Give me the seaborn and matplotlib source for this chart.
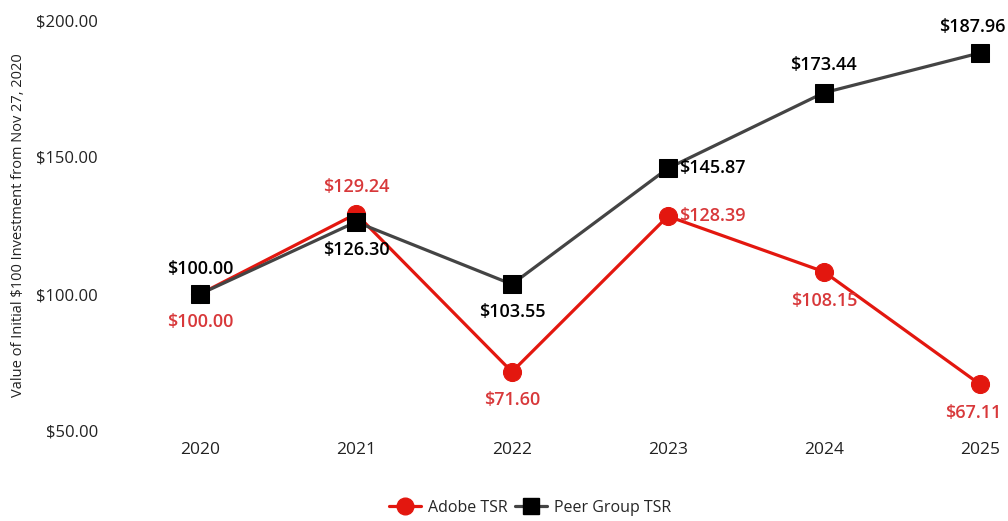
import matplotlib
matplotlib.use("Agg")
import matplotlib.pyplot as plt
import seaborn as sns
import pandas as pd
from matplotlib.lines import Line2D

years = [2020, 2021, 2022, 2023, 2024, 2025]
adobe_tsr = [100.00, 129.24, 71.60, 128.39, 108.15, 67.11]
peer_tsr = [100.00, 126.30, 103.55, 145.87, 173.44, 187.96]
series_names = ["Adobe TSR", "Peer Group TSR"]
y_ticks = [50, 100, 150, 200]

sns.set_theme(style="white")
plt.rcParams['font.family'] = ['Open Sans', 'DejaVu Sans']

df = pd.DataFrame({
    "Year": years * 2,
    "Value": adobe_tsr + peer_tsr,
    "Series": [series_names[0]] * len(years) + [series_names[1]] * len(years),
})

fig = plt.figure(figsize=(10.08, 5.21), dpi=100)
ax = fig.add_axes([105 / 1008, 1 - 431 / 521, (1000 - 105) / 1008, (431 - 20) / 521])

red = "#e3170f"
red_text = "#d8383a"
dark = "#444444"

sns.lineplot(data=df, x="Year", y="Value", hue="Series", style="Series",
             palette={series_names[0]: red, series_names[1]: dark},
             markers={series_names[0]: "o", series_names[1]: "s"},
             dashes=False, linewidth=2.3, markersize=13, ax=ax, legend=False,
             zorder=3)
for line, mc in zip(ax.get_lines(), [red, "black"]):
    line.set_markerfacecolor(mc)
    line.set_markeredgecolor(mc)

ax.set_xlim(2019.39, 2025.13)
ax.set_ylim(50, 200)
ax.set_yticks(y_ticks)
ax.set_yticklabels([f"${v:.2f}" for v in y_ticks])
ax.set_xticks(years)
ax.set_xticklabels([str(y) for y in years])
ax.tick_params(axis="x", pad=8, labelsize=12.5, colors="#222222", length=0)
ax.tick_params(axis="y", pad=5, labelsize=12, colors="#222222", length=0)
for s in ax.spines.values():
    s.set_visible(False)
ax.grid(False)
ax.set_xlabel("")
ax.set_ylabel("Value of Initial $100 Investment from Nov 27, 2020", fontsize=10.5, color="#222222")
ax.yaxis.set_label_coords((26 - 105) / 895, (431 - 225) / 411)

adobe_off = [(0, -20), (0, 19), (0, -20), (32, 0), (0, -21), (-5, -21)]
peer_off = [(0, 18), (0, -20), (0, -20), (32, 0), (0, 20), (-5, 19)]
for i, y in enumerate(years):
    ax.annotate(f"${adobe_tsr[i]:.2f}", (y, adobe_tsr[i]), xytext=adobe_off[i],
                textcoords="offset points", ha="center", va="center",
                color=red_text, fontsize=13, fontweight="semibold")
    ax.annotate(f"${peer_tsr[i]:.2f}", (y, peer_tsr[i]), xytext=peer_off[i],
                textcoords="offset points", ha="center", va="center",
                color="black", fontsize=13, fontweight="semibold")

handles = [Line2D([], [], color=red, lw=2.3, marker="o", markersize=12, markerfacecolor=red, markeredgecolor=red),
           Line2D([], [], color=dark, lw=2.3, marker="s", markersize=12, markerfacecolor="black", markeredgecolor="black")]
fig.legend(handles, series_names, loc="center", bbox_to_anchor=(530 / 1008, 1 - 508 / 521),
           ncol=2, frameon=False, fontsize=11.5, handlelength=2.0, columnspacing=0.5, handletextpad=0.4)

fig.savefig("out.png", dpi=100)
